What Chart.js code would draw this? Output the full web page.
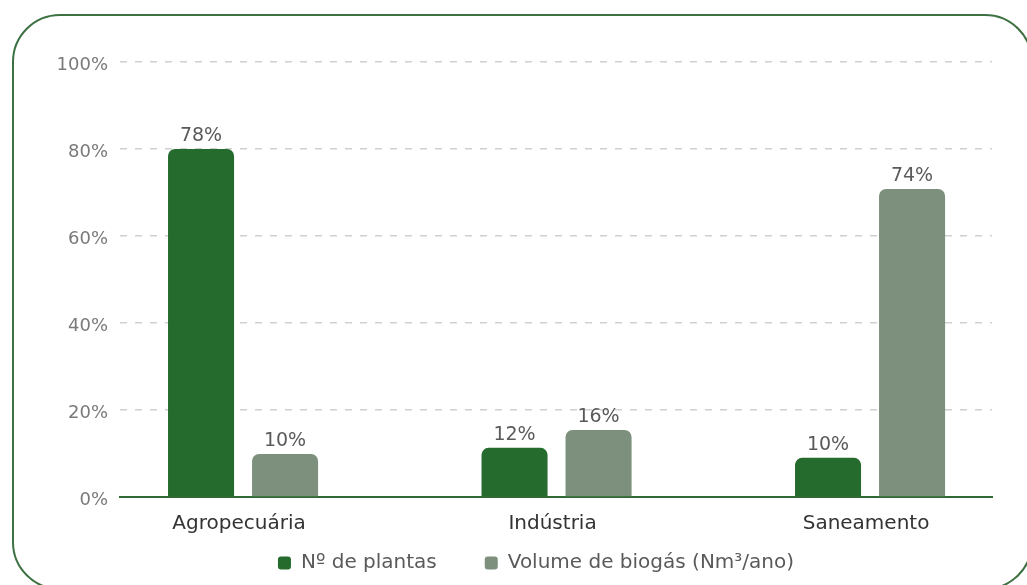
<!DOCTYPE html>
<html>
<head>
<meta charset="utf-8">
<script src="https://cdn.jsdelivr.net/npm/chart.js@4"></script>
<style>
  html, body { margin: 0; padding: 0; background: #ffffff; overflow: hidden; }
  #wrap { position: relative; width: 1027px; height: 585px; }
  #frame { position: absolute; left: 12px; top: 14px; width: 1021px; height: 576px;
           border: 2px solid #3d7142; border-radius: 48px; box-sizing: border-box; }
  #c { position: absolute; left: 0; top: 0; }
</style>
</head>
<body>
<div id="wrap">
  <div id="frame"></div>
  <canvas id="c" width="1027" height="585"></canvas>
</div>
<script>
// ---- data ----
const categories = ['Agropecuária', 'Indústria', 'Saneamento'];
const seriesNames = ['Nº de plantas', 'Volume de biogás (Nm³/ano)'];
const plantasValues = [80, 11.3, 9];        // drawn bar heights (%)
const biogasValues  = [9.9, 15.4, 70.8];    // drawn bar heights (%)
const plantasLabels = ['78%', '12%', '10%'];
const biogasLabels  = ['10%', '16%', '74%'];
const yTicks = [0, 20, 40, 60, 80, 100];

const GREEN = '#256b2d';
const GRAY = '#7d907d';
const FONT = '"DejaVu Sans", sans-serif';

const valueLabels = {
  id: 'valueLabels',
  afterDatasetsDraw(chart) {
    const ctx = chart.ctx;
    ctx.save();
    ctx.font = '19px ' + FONT;
    ctx.fillStyle = '#5a5a5a';
    ctx.textAlign = 'center';
    ctx.textBaseline = 'alphabetic';
    chart.data.datasets.forEach((ds, di) => {
      const meta = chart.getDatasetMeta(di);
      meta.data.forEach((el, i) => {
        ctx.fillText(ds.valueText[i], el.x, el.y - 8);
      });
    });
    ctx.restore();
  }
};

const legendPlace = {
  id: 'legendPlace',
  afterLayout(chart) {
    const lg = chart.legend;
    if (lg) {
      const pad = lg.options.labels.padding;
      const fs = lg.options.labels.font.size;
      lg.top = 563 - pad - fs / 2;
      lg.bottom = chart.height;
      lg.height = lg.bottom - lg.top;
      const shift = 536 - (lg.left + lg.right) / 2;
      lg.left += shift;
      lg.right += shift;
    }
  }
};

new Chart(document.getElementById('c'), {
  type: 'bar',
  data: {
    datasets: [
      {
        label: seriesNames[0],
        data: categories.map((c, i) => ({ x: i, y: plantasValues[i] })),
        valueText: plantasLabels,
        backgroundColor: GREEN,
        borderRadius: 7,
        borderSkipped: 'start',
        categoryPercentage: 0.536,
        barPercentage: 0.786
      },
      {
        label: seriesNames[1],
        data: categories.map((c, i) => ({ x: i, y: biogasValues[i] })),
        valueText: biogasLabels,
        backgroundColor: GRAY,
        borderRadius: 7,
        borderSkipped: 'start',
        categoryPercentage: 0.536,
        barPercentage: 0.786
      }
    ]
  },
  options: {
    responsive: false,
    animation: false,
    devicePixelRatio: 1,
    layout: { padding: { left: 0, right: 35, top: 62, bottom: 0 } },
    plugins: {
      tooltip: { enabled: false },
      legend: {
        position: 'bottom',
        maxHeight: 40,
        labels: {
          font: { family: FONT, size: 20 },
          color: '#5a5a5a',
          boxWidth: 13,
          boxHeight: 13,
          useBorderRadius: true,
          borderRadius: 3,
          padding: 48
        }
      }
    },
    scales: {
      x: {
        type: 'linear',
        offset: false,
        min: -0.3925,
        max: 2.389,
        grid: { display: false, offset: false },
        border: { display: true, color: '#2f6a34', width: 2 },
        afterBuildTicks(scale) {
          scale.ticks = categories.map((c, i) => ({ value: i }));
        },
        afterFit(scale) {
          const lg = scale.chart.legend;
          scale.height = Math.max(0, 585 - 497 - (lg ? lg.height : 0));
        },
        ticks: {
          callback: (v) => categories[v] !== undefined ? categories[v] : '',
          font: { family: FONT, size: 20 },
          color: '#333333',
          padding: 7,
          labelOffset: -4,
          maxRotation: 0,
          autoSkip: false
        }
      },
      y: {
        min: 0,
        max: 100,
        afterBuildTicks(scale) {
          scale.ticks = yTicks.map(v => ({ value: v }));
        },
        afterFit(scale) { scale.width = 120; },
        grid: { color: '#d0d0d0', lineWidth: 1.5, drawTicks: false },
        border: { display: false, dash: [7, 8] },
        ticks: {
          callback: (v) => v + '%',
          font: { family: FONT, size: 18 },
          color: '#7a7a7a',
          padding: 12,
          labelOffset: 3
        }
      }
    }
  },
  plugins: [valueLabels, legendPlace]
});
</script>
</body>
</html>
